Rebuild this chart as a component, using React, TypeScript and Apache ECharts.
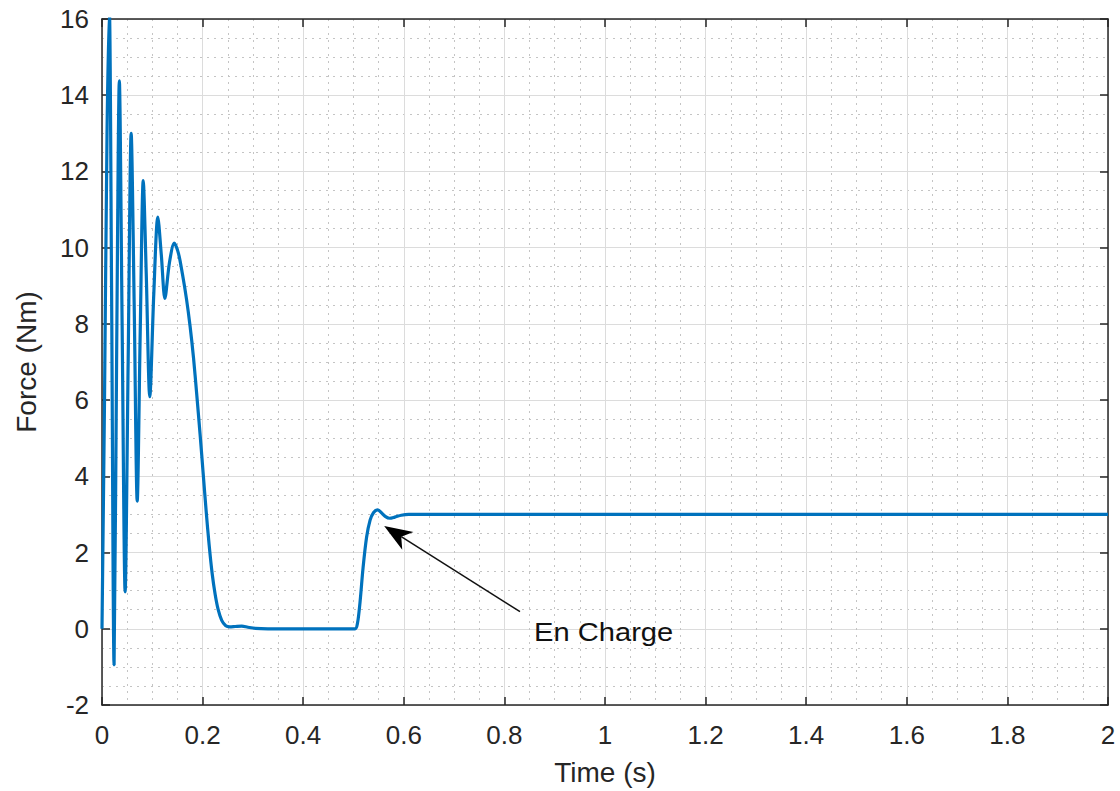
import React, { useEffect, useRef } from "react";
import * as echarts from "echarts";

// Time (s) samples and force (Nm) values
const timeValues: number[] = [
  0, 0.005, 0.01, 0.0145, 0.019, 0.024, 0.029, 0.0345, 0.04, 0.046,
  0.052, 0.058, 0.064, 0.07, 0.076, 0.082, 0.088, 0.095, 0.103, 0.111,
  0.118, 0.125, 0.134, 0.1437, 0.152, 0.16, 0.168, 0.175, 0.182, 0.188,
  0.195, 0.201, 0.207, 0.213, 0.219, 0.225, 0.231, 0.238, 0.246, 0.254,
  0.265, 0.278, 0.29, 0.305, 0.33, 0.4, 0.503, 0.508,
  0.513, 0.519, 0.526, 0.533, 0.54, 0.548, 0.555, 0.563, 0.572, 0.582,
  0.595, 0.61, 1.0, 1.5, 2.0,
];
const forceValues: number[] = [
  0, 6, 13, 16.3, 9, -0.95, 7, 14.38, 8, 0.97,
  7, 13.0, 8.5, 3.35, 7.8, 11.76, 9.3, 6.09, 8.8, 10.8,
  9.8, 8.67, 9.6, 10.12, 9.85, 9.3, 8.65, 7.95, 7.1, 6.2,
  5.1, 4.1, 3.1, 2.2, 1.45, 0.9, 0.5, 0.22, 0.08, 0.05,
  0.06, 0.07, 0.04, 0.01, 0, 0, 0, 0.15,
  0.7, 1.6, 2.4, 2.85, 3.05, 3.12, 3.05, 2.95, 2.9, 2.93,
  2.98, 3.0, 3.0, 3.0, 3.0,
];

const xTicks = { min: 0, max: 2, interval: 0.2 };
const yTicks = { min: -2, max: 16, interval: 2 };

const annotationText = "En Charge";
const arrowTip: [number, number] = [0.561, 2.7];
const arrowTail: [number, number] = [0.831, 0.45];
const textAnchor: [number, number] = [0.859, -0.08];

const FONT = "'Liberation Sans', Arial, Helvetica, sans-serif";
const AXIS_COLOR = "#262626";

export default function App() {
  const ref = useRef<HTMLDivElement>(null);

  useEffect(() => {
    if (!ref.current) return;
    const chart = echarts.init(ref.current, null, { renderer: "svg" });

    const axisCommon = {
      axisLine: { show: true, onZero: false, lineStyle: { color: AXIS_COLOR, width: 1.5 } },
      axisTick: { show: true, inside: true, length: 8, lineStyle: { color: AXIS_COLOR, width: 1.5 } },
      minorTick: { show: false, splitNumber: 4 },
    };

    const data = timeValues.map((t, i) => [t, forceValues[i]]);

    chart.setOption({
      animation: false,
      backgroundColor: "#ffffff",
      grid: { left: 102, right: 12, top: 19, bottom: 86, containLabel: false },
      xAxis: [
        {
          type: "value",
          position: "bottom",
          ...xTicks,
          ...axisCommon,
          splitLine: { show: true, lineStyle: { color: "#dcdcdc", width: 1 } },
          minorSplitLine: { show: true, lineStyle: { color: "#c4c4c4", width: 1, type: [2, 5] } },
          axisLabel: { show: true, margin: 17, fontSize: 26, color: AXIS_COLOR, fontFamily: FONT },
          name: "Time (s)",
          nameLocation: "middle",
          nameGap: 53,
          nameTextStyle: { fontSize: 28, color: AXIS_COLOR, fontFamily: FONT },
        },
        {
          type: "value",
          position: "top",
          ...xTicks,
          ...axisCommon,
          splitLine: { show: false },
          axisLabel: { show: false },
        },
      ],
      yAxis: [
        {
          type: "value",
          position: "left",
          ...yTicks,
          ...axisCommon,
          splitLine: { show: true, lineStyle: { color: "#dcdcdc", width: 1 } },
          minorSplitLine: { show: true, lineStyle: { color: "#c4c4c4", width: 1, type: [2, 5] } },
          axisLabel: { show: true, margin: 13, fontSize: 26, color: AXIS_COLOR, fontFamily: FONT },
          name: "Force (Nm)",
          nameLocation: "middle",
          nameGap: 62,
          nameTextStyle: { fontSize: 28, color: AXIS_COLOR, fontFamily: FONT },
        },
        {
          type: "value",
          position: "right",
          ...yTicks,
          ...axisCommon,
          splitLine: { show: false },
          axisLabel: { show: false },
        },
      ],
      series: [
        {
          type: "line",
          xAxisIndex: 0,
          yAxisIndex: 0,
          data,
          showSymbol: false,
          smooth: 0.3,
          clip: true,
          lineStyle: { color: "#0072BD", width: 3.2 },
          z: 5,
        },
      ],
    });

    const tip = chart.convertToPixel({ seriesIndex: 0 }, arrowTip) as number[];
    const tail = chart.convertToPixel({ seriesIndex: 0 }, arrowTail) as number[];
    const txt = chart.convertToPixel({ seriesIndex: 0 }, textAnchor) as number[];
    const dx = tip[0] - tail[0];
    const dy = tip[1] - tail[1];
    const len = Math.sqrt(dx * dx + dy * dy);
    const ux = dx / len;
    const uy = dy / len;
    const nx = -uy;
    const ny = ux;
    const L = 28;
    const W = 21;
    const back = [tip[0] - ux * L, tip[1] - uy * L];
    const indent = [tip[0] - ux * L * 0.72, tip[1] - uy * L * 0.72];

    chart.setOption({
      graphic: [
        {
          type: "line",
          shape: { x1: tail[0], y1: tail[1], x2: indent[0], y2: indent[1] },
          style: { stroke: "#111111", lineWidth: 1.5 },
          z: 10,
        },
        {
          type: "polygon",
          shape: {
            points: [
              [tip[0], tip[1]],
              [back[0] + (nx * W) / 2, back[1] + (ny * W) / 2],
              [indent[0], indent[1]],
              [back[0] - (nx * W) / 2, back[1] - (ny * W) / 2],
            ],
          },
          style: { fill: "#000000" },
          z: 10,
        },
        {
          type: "text",
          x: txt[0],
          y: txt[1],
          scaleX: 1.12,
          style: {
            text: annotationText,
            fontSize: 26,
            fontFamily: FONT,
            fill: "#111111",
            align: "left",
            verticalAlign: "middle",
          },
          z: 10,
        },
      ],
    });

    return () => chart.dispose();
  }, []);

  return (
    <div
      ref={ref}
      style={{ position: "absolute", left: 0, top: 0, width: 1120, height: 791 }}
    />
  );
}
